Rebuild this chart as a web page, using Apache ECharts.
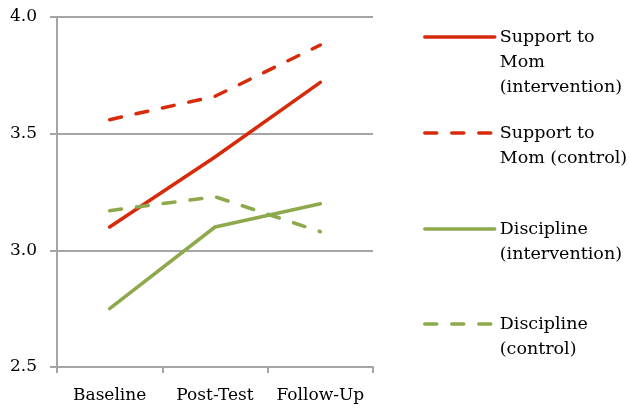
<!DOCTYPE html>
<html>
<head>
<meta charset="utf-8">
<script src="https://cdn.jsdelivr.net/npm/echarts@6/dist/echarts.min.js"></script>
<style>
  html, body { margin: 0; padding: 0; background: #fff; }
  #chart { width: 629px; height: 408px; }
</style>
</head>
<body>
<div id="chart"></div>
<script>
// Time points
const timepoints = ['Baseline', 'Post-Test', 'Follow-Up'];

// Mean scores per group
const supportIntervention = [3.10, 3.40, 3.72];
const supportControl = [3.56, 3.66, 3.88];
const disciplineIntervention = [2.75, 3.10, 3.20];
const disciplineControl = [3.17, 3.23, 3.08];

// Legend label lines
const legendLines = {
  'Support to Mom (intervention)': ['Support to', 'Mom', '(intervention)'],
  'Support to Mom (control)': ['Support to', 'Mom (control)'],
  'Discipline (intervention)': ['Discipline', '(intervention)'],
  'Discipline (control)': ['Discipline', '(control)']
};

const RED = '#D62A0B';
const GREEN = '#8DA94B';
const GRAY = '#A5A5A5';
const FONT = 'DejaVu Serif';
const LINE_H = 25;
const ICON_H = 14;
const LINE_W = 3.5;

function makeSeries(name, data, color, dashed) {
  return {
    name: name,
    type: 'line',
    data: data,
    symbol: 'none',
    showSymbol: false,
    lineStyle: {
      color: color,
      width: LINE_W,
      type: dashed ? [12, 15] : 'solid',
      cap: 'round'
    },
    itemStyle: { color: color }
  };
}

// Legend text is centred on its swatch, so blank lines are prepended to
// keep the first text line level with the swatch.
function makeLegend(name, iconY) {
  const lines = legendLines[name];
  const blanks = lines.length - 1;
  const total = lines.length + blanks;
  const textH = total * LINE_H;
  return {
    top: iconY - textH / 2,
    left: 423,
    padding: 0,
    orient: 'vertical',
    data: [name],
    itemWidth: 70,
    itemHeight: ICON_H,
    itemGap: 0,
    selectedMode: false,
    itemStyle: { opacity: 0 },
    lineStyle: { width: LINE_W, cap: 'round' },
    formatter: () => '\n'.repeat(blanks) + lines.join('\n'),
    textStyle: {
      fontFamily: FONT,
      fontSize: 17.5,
      color: '#000',
      lineHeight: LINE_H
    }
  };
}

const chart = echarts.init(document.getElementById('chart'), null, { renderer: 'canvas' });

chart.setOption({
  animation: false,
  backgroundColor: '#fff',
  grid: { left: 57, right: 256, top: 17, bottom: 41, containLabel: false },
  legend: [
    makeLegend('Support to Mom (intervention)', 37),
    makeLegend('Support to Mom (control)', 133),
    makeLegend('Discipline (intervention)', 229),
    makeLegend('Discipline (control)', 324)
  ],
  xAxis: {
    type: 'category',
    data: timepoints,
    boundaryGap: true,
    axisLine: { lineStyle: { color: GRAY, width: 2 } },
    axisTick: { show: true, length: 6, lineStyle: { color: GRAY, width: 2 } },
    axisLabel: {
      interval: 0, hideOverlap: false,
      fontFamily: FONT, fontSize: 17, color: '#000', margin: 20
    },
    splitLine: { show: false }
  },
  yAxis: {
    type: 'value',
    min: 2.5,
    max: 4.0,
    interval: 0.5,
    axisLine: { show: true, lineStyle: { color: GRAY, width: 2 } },
    axisTick: { show: true, length: 7, lineStyle: { color: GRAY, width: 2 } },
    axisLabel: {
      fontFamily: FONT, fontSize: 17, color: '#000', margin: 20,
      formatter: v => v.toFixed(1)
    },
    splitLine: { show: true, lineStyle: { color: GRAY, width: 2 } }
  },
  series: [
    makeSeries('Support to Mom (intervention)', supportIntervention, RED, false),
    makeSeries('Support to Mom (control)', supportControl, RED, true),
    makeSeries('Discipline (intervention)', disciplineIntervention, GREEN, false),
    makeSeries('Discipline (control)', disciplineControl, GREEN, true)
  ]
});
</script>
</body>
</html>
